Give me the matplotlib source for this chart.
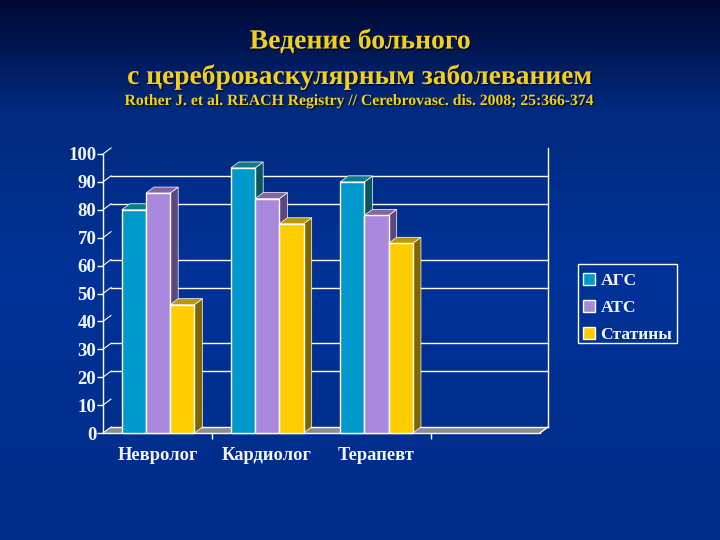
import matplotlib
matplotlib.use('Agg')
import matplotlib.pyplot as plt
import matplotlib.patheffects as pe
from matplotlib.patches import Polygon, Rectangle
import numpy as np

categories = ['Невролог', 'Кардиолог', 'Терапевт']
ags = [80, 95, 90]
ats = [86, 84, 78]
statins = [46, 75, 68]
series_names = ['АГС', 'АТС', 'Статины']
yticks = [0, 10, 20, 30, 40, 50, 60, 70, 80, 90, 100]
# lines that actually show up in the picture, the others got lost in the scaling
grid_levels = [0, 20, 30, 50, 60, 80, 90]

front = ['#0099cc', '#aa88dd', '#ffcc00']
top = ['#127a86', '#82689e', '#b89a08']
side = ['#0b5560', '#5c4880', '#806600']

W, H = 720, 540
plt.rcParams['font.family'] = ['Liberation Serif', 'DejaVu Serif']
fig = plt.figure(figsize=(W / 100, H / 100), dpi=100)

# background gradient
bg = fig.add_axes([0, 0, 1, 1], zorder=0)
bg.axis('off')
yy = np.linspace(0, 1, 270)
r = np.interp(yy, [0, 0.2, 0.5, 1], [0, 0, 0, 0])
g = np.interp(yy, [0, 0.2, 0.5, 1], [8, 42, 50, 44])
b = np.interp(yy, [0, 0.2, 0.5, 1], [50, 125, 152, 135])
bg.imshow(np.stack([r, g, b], axis=-1)[:, None, :] / 255, aspect='auto', extent=[0, 1, 0, 1])

# front plane of the chart in pixels: x 103-540, y 154-433
ax = fig.add_axes([103 / W, 1 - 433 / H, 437 / W, 279 / H], zorder=1)
ax.patch.set_alpha(0)
ax.set_xlim(0, 4)
ax.set_ylim(0, 100)
dx = 8 / 109.25
dy = 6 / 2.79

for s in ['top', 'right']:
    ax.spines[s].set_visible(False)
for s in ['left', 'bottom']:
    ax.spines[s].set_color('white')
    ax.spines[s].set_linewidth(1)

# floor
ax.add_patch(Polygon([(0, 0), (dx, dy), (4 + dx, dy), (4, 0)], closed=True, fc='#8c8c8c',
                     ec='none', clip_on=False, zorder=1))
# back wall lines
for v in grid_levels:
    ax.plot([dx, 4 + dx], [v + dy, v + dy], color='white', lw=1, clip_on=False, zorder=2)
for v in yticks:
    ax.plot([0, dx], [v, v + dy], color='white', lw=0.8, clip_on=False, zorder=2)
ax.plot([4 + dx, 4 + dx], [0 + dy, 100 + dy], color='white', lw=1, clip_on=False, zorder=2)
ax.plot([4, 4 + dx], [0, dy], color='white', lw=1, clip_on=False, zorder=2)

width = 0.222
start = 0.171
z = 3
bars = []
for i in range(len(categories)):
    for j, vals in enumerate([ags, ats, statins]):
        x0 = i + start + j * width
        v = vals[i]
        ax.add_patch(Polygon([(x0 + width, 0), (x0 + width + dx, dy), (x0 + width + dx, v + dy),
                              (x0 + width, v)], closed=True, fc=side[j], ec='white', lw=0.5,
                             clip_on=False, zorder=z))
        ax.add_patch(Polygon([(x0, v), (x0 + dx, v + dy), (x0 + width + dx, v + dy), (x0 + width, v)],
                             closed=True, fc=top[j], ec='white', lw=0.5, clip_on=False, zorder=z))
        b_ = ax.bar(x0, v, width, align='edge', color=front[j], edgecolor='white', lw=1,
                    clip_on=False, zorder=z + 1)
        if i == 0:
            bars.append(b_[0])
        z += 2

ax.set_yticks(yticks)
ax.set_xticks([1, 3])
ax.set_xticklabels([])
ax.tick_params(axis='y', colors='white', length=4, width=1, pad=0.8, labelsize=13.5)
ax.tick_params(axis='x', colors='white', length=4, width=1)
for t in ax.get_yticklabels():
    t.set_fontweight('bold')
    t.set_color('#f4f6ff')

for i, c in enumerate(categories):
    ax.text(i + 0.5, -7.9, c, ha='center', va='center', color='#f4f6ff', fontsize=13.3,
            fontweight='bold', clip_on=False)

# legend has no frame of its own, the box sits a bit higher than the entries
leg = ax.legend(bars, series_names, loc='lower left',
                bbox_to_anchor=(578 / W, 1 - 348 / H, 99 / W, 84 / H),
                bbox_transform=fig.transFigure, mode='expand', borderaxespad=0,
                frameon=False, prop={'size': 12.6, 'weight': 'bold'}, labelcolor='#f4f6ff',
                handlelength=0.69, handleheight=0.69, handletextpad=0.3,
                labelspacing=0.6, borderpad=0.3)
leg.set_zorder(100)
fig.add_artist(Rectangle((578 / W, 1 - 343 / H), 99 / W, 79 / H, transform=fig.transFigure,
                         fc='none', ec='white', lw=1, zorder=5))

shadow = [pe.SimplePatchShadow(offset=(1, -1), shadow_rgbFace='black', alpha=0.6), pe.Normal()]
fig.text(360 / W, 1 - 42 / H, 'Ведение больного', ha='center', va='center', color='#f2cf1d',
         fontsize=20, fontweight='bold', path_effects=shadow, zorder=5)
fig.text(360 / W, 1 - 77 / H, 'с цереброваскулярным заболеванием', ha='center', va='center',
         color='#f2cf1d', fontsize=19.8, fontweight='bold', path_effects=shadow, zorder=5)
fig.text(360 / W, 1 - 101 / H, 'Rother J. et al. REACH Registry // Cerebrovasc. dis. 2008; 25:366-374',
         ha='center', va='center', color='#f2cf1d', fontsize=11.3, fontweight='bold',
         path_effects=shadow, zorder=5)

fig.savefig('out.png', dpi=100)
